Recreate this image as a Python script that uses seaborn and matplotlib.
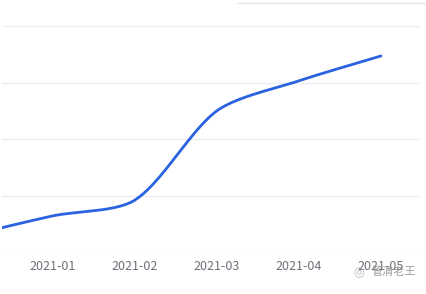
import numpy as np
import pandas as pd
import matplotlib
matplotlib.use("Agg")
import matplotlib.pyplot as plt
import seaborn as sns
from matplotlib.lines import Line2D

# ---- data ----
months = ["2020-12", "2021-01", "2021-02", "2021-03", "2021-04", "2021-05"]
values = [30, 64, 92, 250, 303, 347]
y_ticks = [0, 100, 200, 300, 400]
watermark = "管清老王"

sns.set_theme(style="white")
plt.rcParams['font.family'] = ['Noto Sans CJK SC', 'DejaVu Sans']

W, H = 426, 294
fig = plt.figure(figsize=(W / 100, H / 100), dpi=100)
ax = fig.add_axes([2 / W, (H - 252) / H, (420 - 2) / W, (252 - 26) / H])

x_idx = np.arange(len(months), dtype=float)
y = np.array(values, dtype=float)


def smooth_curve(xs, ys, smooth=0.28, n=40):
    """Render-only smoothing (echarts-like bezier), data stays monthly."""
    px, py = [], []
    m = len(xs)
    cps = []
    for i in range(m):
        p0 = np.array([xs[max(i - 1, 0)], ys[max(i - 1, 0)]])
        p2 = np.array([xs[min(i + 1, m - 1)], ys[min(i + 1, m - 1)]])
        p1 = np.array([xs[i], ys[i]])
        v = (p2 - p0)
        d0 = np.linalg.norm(p1 - p0)
        d1 = np.linalg.norm(p2 - p1)
        tot = d0 + d1 if d0 + d1 > 0 else 1
        cp_prev = p1 - v * smooth * d0 / tot
        cp_next = p1 + v * smooth * d1 / tot
        cps.append((cp_prev, cp_next))
    for i in range(m - 1):
        a = np.array([xs[i], ys[i]])
        b = cps[i][1]
        c = cps[i + 1][0]
        d = np.array([xs[i + 1], ys[i + 1]])
        t = np.linspace(0, 1, n)[:, None]
        pts = ((1 - t) ** 3) * a + 3 * ((1 - t) ** 2) * t * b + 3 * (1 - t) * t ** 2 * c + t ** 3 * d
        px.extend(pts[:, 0]); py.extend(pts[:, 1])
    return np.array(px), np.array(py)


# smoothing done in pixel-like scaled space so curvature matches the screen
sx, sy = 82.0, 56.5 / 100.0
cx, cy = smooth_curve(x_idx * sx, y * sy)
df = pd.DataFrame({"x": cx / sx, "y": cy / sy})
sns.lineplot(data=df, x="x", y="y", ax=ax, color="#2a62e0", linewidth=2.0,
             sort=False, estimator=None)

ax.set_yticks(y_ticks)
ax.set_yticklabels([])
ax.tick_params(axis="y", length=0)
ax.set_xticks(x_idx)
ax.set_xticklabels(months, fontsize=9, color="#6e7079")
ax.tick_params(axis="x", length=0, pad=6)
ax.set_xlim(1 - 51 / 82, 1 + 367 / 82)
ax.set_ylim(0, 400)
ax.grid(axis="y", color="#eceef3", linewidth=1)
ax.grid(axis="x", visible=False)
for s in ax.spines.values():
    s.set_visible(False)
ax.set_xlabel("")
ax.set_ylabel("")

# faint border line at the top right
fig.add_artist(Line2D([237 / W, 1.0], [(H - 3) / H, (H - 3) / H],
                      transform=fig.transFigure, color="#e6e6e6", linewidth=1))

# watermark
fig.text(372 / W, (H - 272) / H, watermark, fontsize=8, color="#8a8a8a",
         ha="left", va="center", alpha=0.85)
fig.text(359 / W, (H - 273) / H, "◎", fontsize=9, color="#bbbbbb",
         ha="center", va="center", family=['DejaVu Sans'])

fig.savefig("out.png", dpi=100, facecolor="white")
